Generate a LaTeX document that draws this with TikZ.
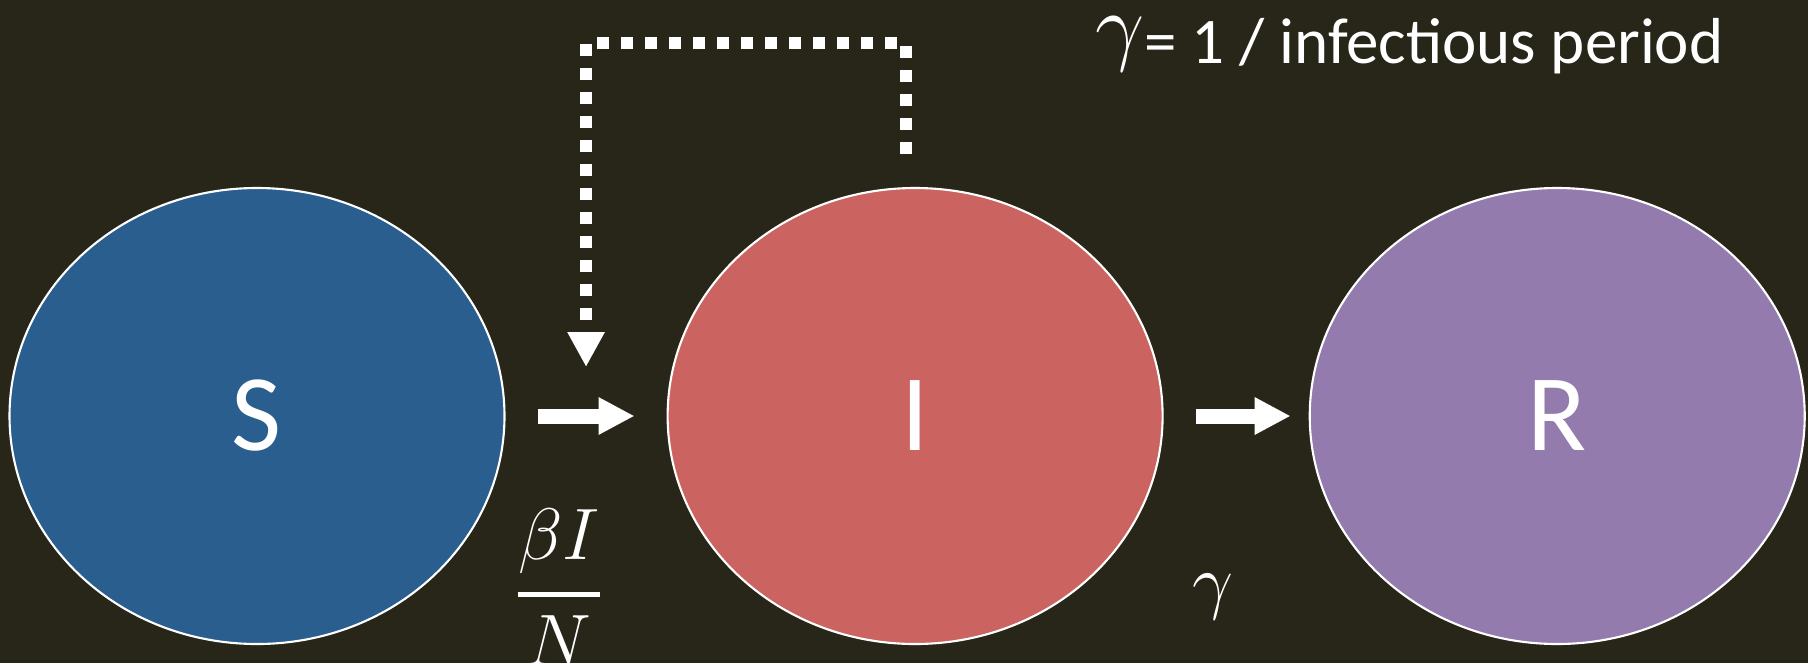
\documentclass[tikz,border=0pt]{standalone}
\usepackage{amsmath}
\usepackage{fontspec}
\setmainfont{Carlito}
\usepackage{tikz}
\usetikzlibrary{shapes.geometric,positioning,calc,arrows.meta}
\definecolor{bgcol}{RGB}{40,38,25}
\definecolor{scol}{RGB}{41,94,143}
\definecolor{icol}{RGB}{203,100,96}
\definecolor{rcol}{RGB}{147,123,174}

\begin{document}
\begin{tikzpicture}[
    compartment/.style={ellipse, draw=white, line width=0.6pt, minimum width=4.95cm, minimum height=4.56cm,
        inner sep=0pt, text=white, font=\fontsize{31}{34}\selectfont},
    flow/.style={white, line width=0.15cm, -{Triangle[length=0.36cm,width=0.35cm]}},
    feedback/.style={white, line width=0.12cm, dash pattern=on 0.12cm off 0.12cm,
        -{Triangle[length=0.35cm,width=0.35cm]}},
    rate/.style={text=white, inner sep=0pt}
]
    \useasboundingbox (0,0) rectangle (18.08,6.63);
    \fill[bgcol] (0,0) rectangle (18.08,6.63);
    \node[compartment, fill=scol] (S) at (2.57,2.47) {S};
    \node[compartment, fill=icol, right=1.61cm of S] (I) {I};
    \node[compartment, fill=rcol, right=1.45cm of I] (R) {R};
    \draw[flow, shorten <=0.32cm, shorten >=0.32cm] (S) -- (I);
    \draw[flow, shorten <=0.32cm, shorten >=0.18cm] (I) -- (R);
    \coordinate (Itop) at ($(I.north)+(-0.09,0.33)$);
    \coordinate (SItip) at ($(S)!0.5!(I)+(0,0.49)$);
    \draw[feedback] (Itop) -- ++(0,1.11) -| (SItip);
    \node[rate, font=\fontsize{22}{25}\selectfont] (force) at (5.59,0.76) {$\genfrac{}{}{1.7pt}{0}{\beta I}{N}$};
    \node[rate, font=\fontsize{21}{24}\selectfont] (recov) at (12.13,0.66) {$\gamma$};
    \node[rate, anchor=base west] (def) at (10.95,6.00)
        {\fontsize{28}{30}\selectfont\raisebox{2.5pt}{$\gamma$}\fontsize{18.5}{20}\selectfont= 1 / infectious period};
\end{tikzpicture}
\end{document}
